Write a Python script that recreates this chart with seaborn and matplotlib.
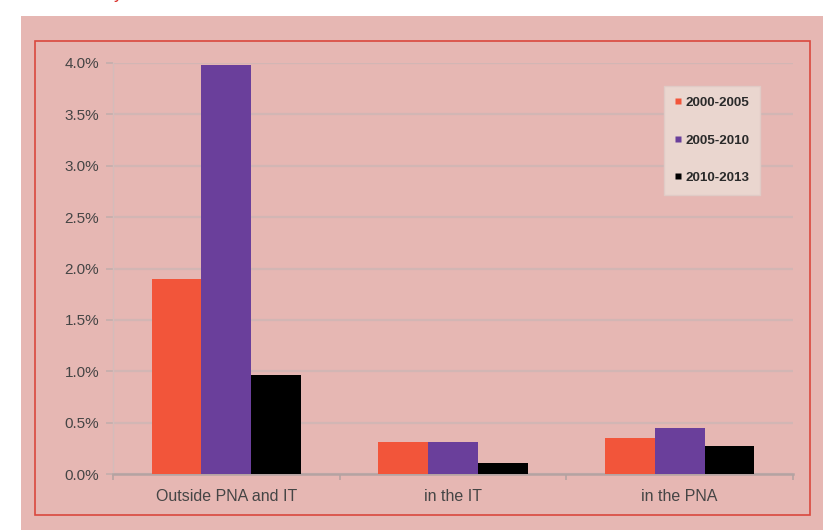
import matplotlib
matplotlib.use("Agg")
import matplotlib.pyplot as plt
from matplotlib.patches import Rectangle
from matplotlib.lines import Line2D
from matplotlib.ticker import FuncFormatter, MultipleLocator
import seaborn as sns
import pandas as pd

# Annual deforestation rate by zone and period (%)
zones = ["Outside PNA and IT", "in the IT", "in the PNA"]
periods = ["2000-2005", "2005-2010", "2010-2013"]
rate_2000_2005 = [1.90, 0.31, 0.35]
rate_2005_2010 = [3.98, 0.31, 0.45]
rate_2010_2013 = [0.96, 0.11, 0.27]
colors = ["#f2553a", "#6a3f9b", "#000000"]

df = pd.DataFrame({
    "zone": zones * 3,
    "period": [p for p in periods for _ in zones],
    "rate": rate_2000_2005 + rate_2005_2010 + rate_2010_2013,
})

sns.set_theme(style="white")
plt.rcParams["font.family"] = ["Liberation Sans", "DejaVu Sans"]

W, H = 823, 530
fig = plt.figure(figsize=(W / 100, H / 100), dpi=100, facecolor="white")

bg = "#e6b7b3"
fig.patches.append(Rectangle((21 / W, 0), 1 - 21 / W, 1 - 16 / H,
                             transform=fig.transFigure, facecolor=bg,
                             edgecolor="none", zorder=-2))
fig.patches.append(Rectangle((35 / W, 1 - 515 / H), (810 - 35) / W, (515 - 41) / H,
                             transform=fig.transFigure, facecolor="none",
                             edgecolor="#d9483e", linewidth=1.2, zorder=-1))

# cut-off title descender
fig.text(114 / W, 1 + 2 / H, "y", color="#d9302a", fontsize=13,
         ha="left", va="baseline")

ax = fig.add_axes([113 / W, 1 - 474 / H, (793 - 113) / W, (474 - 63) / H])
ax.patch.set_alpha(0)

sns.barplot(data=df, x="zone", y="rate", hue="period", palette=colors,
            width=0.66, saturation=1, ax=ax, legend=False, zorder=3,
            edgecolor="none", linewidth=0)

ax.set_ylim(0, 4.0)
ax.set_xlim(-0.5, 2.5)
ax.yaxis.set_major_locator(MultipleLocator(0.5))
ax.yaxis.set_major_formatter(FuncFormatter(lambda v, _: f"{v:.1f}%"))
ax.grid(axis="y", color="#d2b6b4", linewidth=1.6, zorder=0)
ax.set_axisbelow(True)

for s in ["top", "right"]:
    ax.spines[s].set_visible(False)
ax.spines["left"].set_color("#d4bcba")
ax.spines["left"].set_linewidth(1.0)
ax.spines["bottom"].set_color("#b5a3a2")
ax.spines["bottom"].set_linewidth(1.8)

ax.tick_params(axis="y", left=True, length=5, width=1.2, color="#c4aeac",
               labelsize=11, labelcolor="#454545", pad=5)
ax.set_xticks([0, 1, 2])
ax.set_xticklabels(zones)
ax.set_xticks([-0.5, 0.5, 1.5, 2.5], minor=True)
ax.tick_params(axis="x", which="major", bottom=False, length=0, labelsize=11.5,
               labelcolor="#454545", pad=11)
ax.tick_params(axis="x", which="minor", bottom=True, length=4, width=1.2,
               color="#b5a3a2")
ax.set_xlabel("")
ax.set_ylabel("")

handles = [Line2D([], [], marker="s", linestyle="none", markersize=5,
                  markerfacecolor=c, markeredgecolor="none") for c in colors]
leg = ax.legend(handles, periods, loc="upper left",
                bbox_to_anchor=((664 - 113) / (793 - 113), 1 - (86 - 63) / (474 - 63)),
                frameon=True, fancybox=False, fontsize=9.7, labelspacing=1.85,
                handlelength=0.5, handletextpad=0.3, borderpad=0.8,
                borderaxespad=0)
for t in leg.get_texts():
    t.set_fontweight("bold")
    t.set_color("#2a2a2a")
leg.get_frame().set_facecolor("#ead6cf")
leg.get_frame().set_edgecolor("#e0cbc6")
leg.get_frame().set_alpha(1)

fig.savefig("out.png", dpi=100, facecolor="white")
